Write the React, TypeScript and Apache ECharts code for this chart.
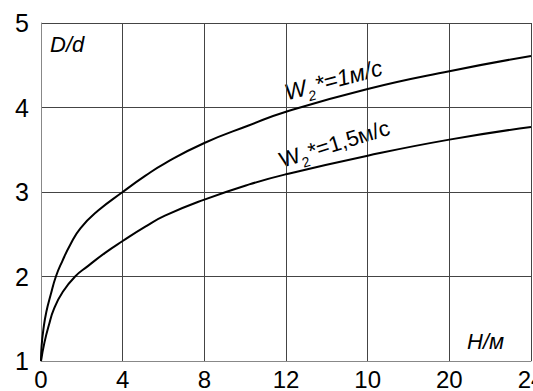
import React, { useEffect, useRef } from "react";
import * as echarts from "echarts";

const xTickLabels = ["0", "4", "8", "12", "10", "20", "24"];
const upperX = [0, 0.03, 0.12, 0.26, 0.47, 0.73, 1.04, 1.42, 1.93, 2.8, 4, 5.1, 6.07, 8, 10.2, 12, 16, 20, 24];
const upperY = [1, 1.18, 1.38, 1.58, 1.78, 2.0, 2.18, 2.37, 2.57, 2.78, 3.0, 3.19, 3.34, 3.58, 3.79, 3.95, 4.22, 4.43, 4.61];
const lowerX = [0, 0.17, 0.38, 0.64, 1.07, 1.67, 2.28, 3.14, 4, 5.11, 6.07, 8, 10.2, 12, 16, 20, 24];
const lowerY = [1, 1.22, 1.42, 1.62, 1.82, 2.0, 2.12, 2.28, 2.42, 2.59, 2.72, 2.91, 3.09, 3.21, 3.43, 3.62, 3.77];

const FONT = "'Liberation Sans', Arial, sans-serif";

function label(x: number, y: number, angleDeg: number, size: number, italic: boolean, rest: string) {
  const fs = italic ? "italic" : "normal";
  const wW = size * 0.944;
  return {
    type: "group",
    x,
    y,
    rotation: (angleDeg * Math.PI) / 180,
    children: [
      { type: "text", x: 0, y: 0, style: { text: "W", font: `${fs} ${size}px ${FONT}`, fill: "#000", verticalAlign: "bottom", align: "left" } },
      { type: "text", x: wW, y: 5, style: { text: "2", font: `${fs} ${Math.round(size * 0.62)}px ${FONT}`, fill: "#000", verticalAlign: "bottom", align: "left" } },
      { type: "text", x: wW + size * 0.42, y: 0, style: { text: rest, font: `${fs} ${size}px ${FONT}`, fill: "#000", verticalAlign: "bottom", align: "left" } },
    ],
  };
}

export default function App() {
  const ref = useRef<HTMLDivElement>(null);
  useEffect(() => {
    if (!ref.current) return;
    const chart = echarts.init(ref.current, null, { renderer: "svg" });
    const upper = upperX.map((x, i) => [x, upperY[i]]);
    const lower = lowerX.map((x, i) => [x, lowerY[i]]);
    chart.setOption({
      animation: false,
      backgroundColor: "#fff",
      grid: { left: 41, right: 2, top: 23, bottom: 30, outerBoundsMode: "none", containLabel: false },
      xAxis: {
        type: "value",
        min: 0,
        max: 24,
        interval: 4,
        axisLine: { show: true, lineStyle: { color: "#888", width: 1 } },
        axisTick: { show: false },
        splitLine: { show: true, lineStyle: { color: "#444", width: 1 } },
        axisLabel: {
          margin: 6,
          fontSize: 24,
          lineHeight: 24,
          color: "#000",
          fontFamily: FONT,
          formatter: (v: number) => xTickLabels[Math.round(v / 4)] ?? "",
        },
      },
      yAxis: {
        type: "value",
        min: 1,
        max: 5,
        interval: 1,
        axisLine: { show: true, lineStyle: { color: "#888", width: 1 } },
        axisTick: { show: false },
        splitLine: { show: true, lineStyle: { color: "#444", width: 1 } },
        axisLabel: { margin: 12, fontSize: 25, color: "#000", fontFamily: FONT },
      },
      series: [
        {
          type: "line",
          data: upper,
          smooth: 0.5,
          showSymbol: false,
          lineStyle: { color: "#000", width: 2 },
        },
        {
          type: "line",
          data: lower,
          smooth: 0.5,
          showSymbol: false,
          lineStyle: { color: "#000", width: 2 },
        },
      ],
      graphic: [
        { type: "text", left: 50, top: 33, style: { text: "D/d", font: `italic 22px ${FONT}`, fill: "#000" } },
        { type: "text", left: 467, top: 330, style: { text: "H/м", font: `italic 22px ${FONT}`, fill: "#000" } },
        label(288, 104, 15, 23, true, "*=1м/с"),
        label(283, 171, 17, 22, false, "*=1,5м/с"),
      ],
    });
    return () => chart.dispose();
  }, []);
  return <div ref={ref} style={{ position: "fixed", left: 0, top: 0, width: 533, height: 391 }} />;
}
